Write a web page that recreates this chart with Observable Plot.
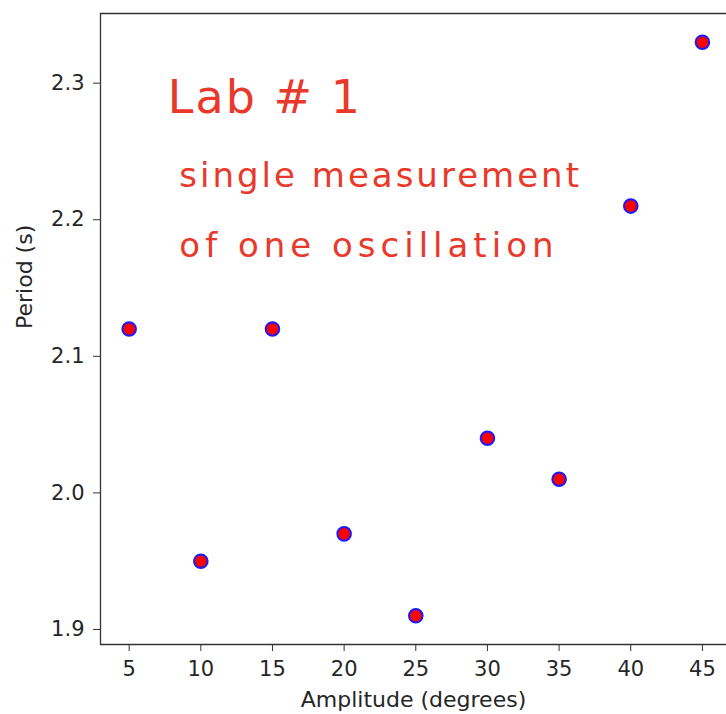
<!DOCTYPE html>
<html>
<head>
<meta charset="utf-8">
<script src="https://cdn.jsdelivr.net/npm/d3@7"></script>
<script src="https://cdn.jsdelivr.net/npm/@observablehq/plot@0.6"></script>
<style>
  html, body { margin: 0; padding: 0; background: #fff; }
  svg { display: block; }
</style>
</head>
<body>
<div id="chart"></div>
<script>
// Data
const amplitude = [5, 10, 15, 20, 25, 30, 35, 40, 45];
const period = [2.12, 1.95, 2.12, 1.97, 1.91, 2.04, 2.01, 2.21, 2.33];
const xTicks = [5, 10, 15, 20, 25, 30, 35, 40, 45];
const yTicks = [1.9, 2.0, 2.1, 2.2, 2.3];
const xDomain = [3, 46.68];
const yDomain = [1.889, 2.351];
const xLabel = "Amplitude (degrees)";
const yLabel = "Period (s)";
const notes = ["Lab # 1", "single measurement", "of one oscillation"];
const noteX = [7.7, 8.5, 8.5];
const noteY = [2.289, 2.232, 2.181];
const noteSize = [46, 34, 34];
const noteSpacing = [2, 3, 5];

const points = amplitude.map((a, i) => ({a, p: period[i]}));
const noteData = notes.map((t, i) => ({t, x: noteX[i], y: noteY[i], s: noteSize[i]}));

const ink = "#e8392b";
const axisFont = 21;

const chart = Plot.plot({
  width: 726,
  height: 714,
  marginLeft: 100,
  marginRight: 0,
  marginTop: 13,
  marginBottom: 70,
  style: {fontFamily: "DejaVu Sans", fontSize: axisFont + "px", color: "#262626", background: "#fff"},
  x: {domain: xDomain, ticks: xTicks},
  y: {domain: yDomain, ticks: yTicks},
  marks: [
    Plot.axisX({ticks: xTicks, tickSize: 7, tickPadding: 10, label: null, fontSize: axisFont, tickFormat: d => String(d), stroke: "#333"}),
    Plot.axisY({ticks: yTicks, tickSize: 7, tickPadding: 9, label: null, fontSize: axisFont, tickFormat: d => d.toFixed(1), stroke: "#333"}),
    Plot.ruleX([xDomain[0]], {stroke: "#333", strokeWidth: 1.3}),
    Plot.ruleY(yDomain, {stroke: "#333", strokeWidth: 1.3}),
    Plot.text([xLabel], {frameAnchor: "bottom", dy: 62, fontSize: 22, fill: "#262626"}),
    Plot.text([yLabel], {frameAnchor: "left", dx: -76, rotate: -90, fontSize: 22, fill: "#262626"}),
    Plot.dot(points, {x: "a", y: "p", r: 6.8, fill: "#ff0000", stroke: "#1a1aff", strokeWidth: 2}),
    Plot.text(noteData, {x: "x", y: "y", text: "t", fontSize: "s", textAnchor: "start", fill: ink, fontFamily: "DejaVu Sans", className: "hand"})
  ]
});

d3.select(chart).selectAll(".hand text").each(function(d, i) {
  d3.select(this).style("letter-spacing", noteSpacing[i] + "px");
});

document.getElementById("chart").appendChild(chart);
</script>
</body>
</html>
